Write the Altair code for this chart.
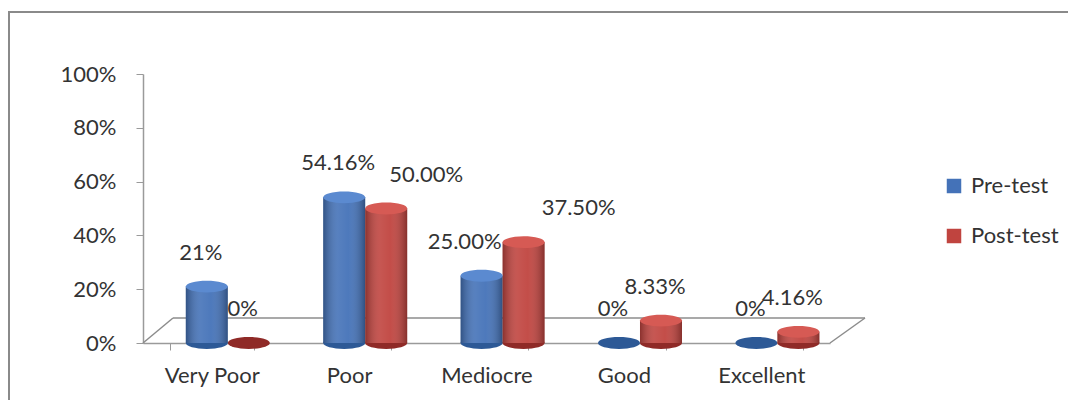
import altair as alt
import pandas as pd

categories = ["Very Poor", "Poor", "Mediocre", "Good", "Excellent"]
series = ["Pre-test", "Post-test"]
pre_values = [21, 54.16, 25.00, 0, 0]
post_values = [0, 50.00, 37.50, 8.33, 4.16]
pre_labels = ["21%", "54.16%", "25.00%", "0%", "0%"]
post_labels = ["0%", "50.00%", "37.50%", "8.33%", "4.16%"]
y_ticks = [0, 20, 40, 60, 80, 100]

rows = []
for i, c in enumerate(categories):
    rows.append(dict(cat=c, series="Pre-test", value=pre_values[i], label=pre_labels[i]))
    rows.append(dict(cat=c, series="Post-test", value=post_values[i], label=post_labels[i]))
df = pd.DataFrame(rows)
one = pd.DataFrame({"d": [0]})

W, H = 687, 269
FONT = "Lato"
TXT = "#333333"
AX = "#9a9a9a"

x_enc = alt.X("cat:N", sort=categories, title=None,
              scale=alt.Scale(domain=categories, paddingInner=0.39, paddingOuter=0.195),
              axis=alt.Axis(labelAngle=0, labelFont=FONT, labelFontSize=22, labelColor=TXT,
                            domainColor=AX, tickColor=AX, tickSize=7, tickBand="extent",
                            labelPadding=15, domainWidth=1.5))
y_scale = alt.Scale(domain=[0, 100], nice=False)
y_axis = alt.Axis(values=y_ticks, labelExpr="datum.value + '%'", grid=False,
                  labelFont=FONT, labelFontSize=22, labelColor=TXT,
                  domainColor=AX, tickColor=AX, tickSize=7, labelPadding=20,
                  domainWidth=1.5)
y_enc = alt.Y("value:Q", title=None, scale=y_scale, axis=y_axis)
y_zero = alt.Y("zero:Q", title=None, scale=y_scale, axis=y_axis)
# bars drawn with a small depth shift to the right, as in the 3D original
xo_enc = alt.XOffset("series:N", sort=series,
                     scale=alt.Scale(domain=series, range=[16, 100], paddingInner=0, paddingOuter=0))

color_scale = alt.Scale(domain=series, range=["#4472b8", "#c0443f"])
dark_scale = alt.Scale(domain=series, range=["#2d5996", "#8f2a27"])
top_scale = alt.Scale(domain=series, range=["#5b8ad0", "#d65a54"])

base = alt.Chart(df)

# floor (3D base) lines
floor_color = "#8c8c8c"
floor_back = alt.Chart(one).mark_rule(color=floor_color, strokeWidth=1.5).encode(
    x=alt.value(30), x2=alt.value(722), y=alt.value(244), y2=alt.value(244))
floor_left = alt.Chart(one).mark_rule(color=floor_color, strokeWidth=1.5).encode(
    x=alt.value(0), x2=alt.value(30), y=alt.value(H), y2=alt.value(244))
floor_right = alt.Chart(one).mark_rule(color=floor_color, strokeWidth=1.5).encode(
    x=alt.value(W), x2=alt.value(722), y=alt.value(H), y2=alt.value(244))

# outer border box
border = alt.Chart(one).mark_rect(fill="white", fillOpacity=0, stroke="#8a8a8a", strokeWidth=2).encode(
    x=alt.value(-134), x2=alt.value(W + 400), y=alt.value(-62), y2=alt.value(H + 300))

ellipse = "M -1 0 A 1 0.28 0 1 0 1 0 A 1 0.28 0 1 0 -1 0 Z"

bottom_ell = base.mark_point(shape=ellipse, filled=True, size=1764, opacity=1).encode(
    x=x_enc, xOffset=xo_enc, y=y_zero,
    fill=alt.Fill("series:N", scale=dark_scale, legend=None)
).transform_calculate(zero="0")

bars = base.mark_bar(width=42).encode(
    x=x_enc, xOffset=xo_enc, y=y_enc,
    color=alt.Color("series:N", scale=color_scale, title=None,
                    legend=alt.Legend(orient="none", legendX=800, legendY=101,
                                      symbolType="square", symbolSize=210,
                                      symbolStrokeWidth=0, labelFont=FONT,
                                      labelFontSize=22, labelColor=TXT,
                                      rowPadding=28, labelOffset=6, padding=0))
)

shade = base.mark_bar(width=42, color=alt.Gradient(
    gradient="linear", x1=0, x2=1, y1=0, y2=0,
    stops=[alt.GradientStop(offset=0, color="rgba(0,0,0,0.28)"),
           alt.GradientStop(offset=0.35, color="rgba(255,255,255,0.10)"),
           alt.GradientStop(offset=0.6, color="rgba(255,255,255,0.05)"),
           alt.GradientStop(offset=1, color="rgba(0,0,0,0.30)")])).encode(
    x=x_enc, xOffset=xo_enc, y=y_enc
).transform_filter("datum.value > 0")

top_ell = base.mark_point(shape=ellipse, filled=True, size=1764, opacity=1).encode(
    x=x_enc, xOffset=xo_enc, y=y_enc,
    fill=alt.Fill("series:N", scale=top_scale, legend=None)
).transform_filter("datum.value > 0")


def labels(filt, dx):
    return base.mark_text(font=FONT, fontSize=22, color=TXT, dy=-34, dx=dx, baseline="middle").encode(
        x=x_enc, xOffset=xo_enc, y=y_enc, text="label:N"
    ).transform_filter(filt)


lab_main = labels("!((datum.series == 'Pre-test' && datum.cat == 'Mediocre') || "
                  "(datum.series == 'Post-test' && (datum.cat == 'Poor' || datum.cat == 'Mediocre')))", -6)
lab_med_pre = labels("datum.series == 'Pre-test' && datum.cat == 'Mediocre'", -17)
lab_poor_post = labels("datum.series == 'Post-test' && datum.cat == 'Poor'", 40)
lab_med_post = labels("datum.series == 'Post-test' && datum.cat == 'Mediocre'", 55)

chart = alt.layer(
    border, floor_back, floor_left, floor_right, bottom_ell, bars, shade, top_ell,
    lab_main, lab_med_pre, lab_poor_post, lab_med_post
).resolve_scale(fill="independent").properties(
    width=W, height=H,
    autosize=alt.AutoSizeParams(type="none"),
    padding={"left": 135, "top": 66, "right": 238, "bottom": 57},
    background="white"
).configure_view(stroke=None)

chart.save("out.html", embed_options={"renderer": "svg", "actions": False})
